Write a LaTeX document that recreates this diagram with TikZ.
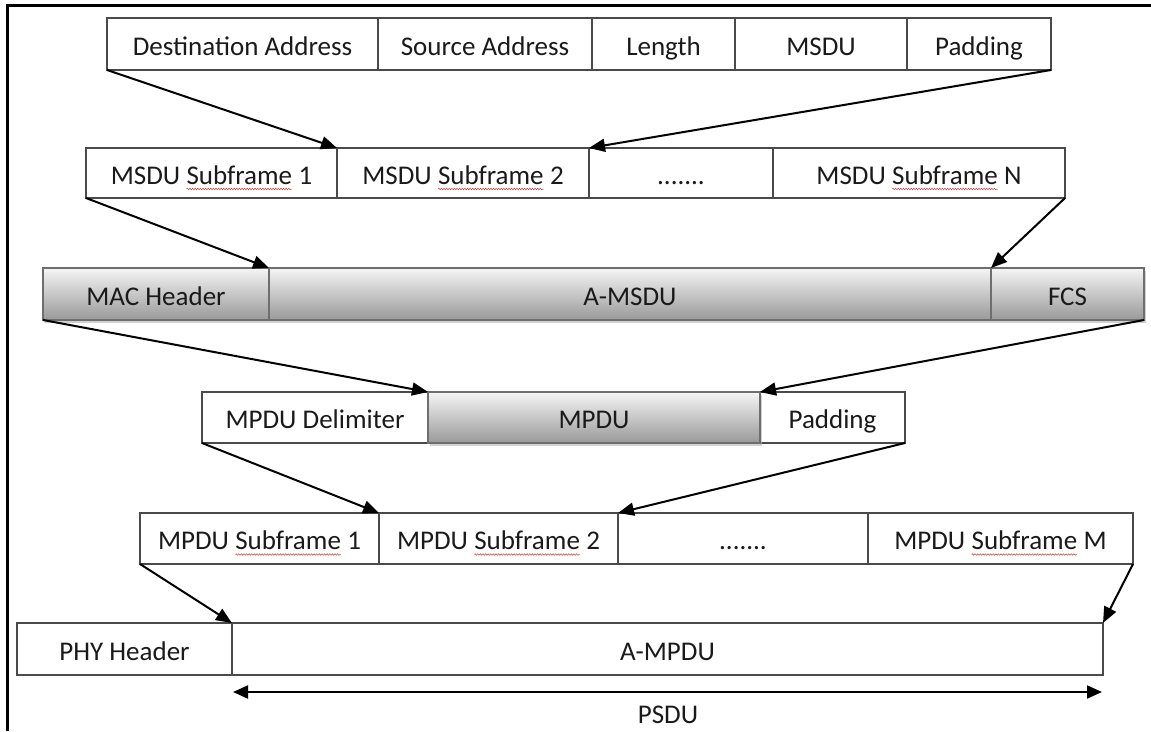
\documentclass[tikz,border=0pt]{standalone}
\usepackage{fontspec}
\setmainfont{Carlito}
\usetikzlibrary{arrows.meta,shadows,decorations.pathmorphing}
\definecolor{txt}{HTML}{1A1A1A}
\definecolor{edge}{HTML}{4A4A4A}
\definecolor{sedge}{HTML}{6E6E6E}
\definecolor{spellred}{HTML}{D04040}
\newcommand\spellw[1]{\begin{tikzpicture}[baseline=(sw.base)]\node[draw=none,fill=none,minimum width=0pt,minimum height=0pt,inner sep=0pt,outer sep=0pt,text height=,text depth=,anchor=base] (sw) {#1};\draw[spellred,line width=0.5pt,decorate,decoration={snake,amplitude=0.8pt,segment length=2.6pt}] ([yshift=-5pt]sw.base west) -- ([yshift=-5pt]sw.base east);\end{tikzpicture}}
\begin{document}
\begin{tikzpicture}[x=1pt,y=-1pt,
  box/.style={draw=edge,line width=1.6pt,fill=white,inner sep=0pt,outer sep=0pt,anchor=north west,
    text height=24pt,text depth=2pt,font=\fontsize{27}{31}\selectfont,text=txt},
  shbox/.style={box,draw=sedge,top color=black!4,bottom color=black!40,
    drop shadow={shadow xshift=2pt,shadow yshift=-3pt,fill=black!30,opacity=0.6}},
  conn/.style={-{Triangle[length=16pt,width=13pt]},line width=2pt,black},
  dbl/.style={{Triangle[length=15pt,width=13pt]}-{Triangle[length=15pt,width=13pt]},line width=2pt,black},
  lbl/.style={inner sep=0pt,font=\fontsize{27}{31}\selectfont,text=txt},
  frame/.style={line width=3pt,black}]
\useasboundingbox (0,0) rectangle (1151,731);
\draw[frame] (7,731) -- (7,5) -- (1151,5);
% Row 1
\node[box,minimum width=271pt,minimum height=52pt] (da) at (107,18) {Destination Address};
\node[box,minimum width=214pt,minimum height=52pt] (sa) at (378,18) {Source Address};
\node[box,minimum width=143pt,minimum height=52pt] (len) at (592,18) {Length};
\node[box,minimum width=172pt,minimum height=52pt] (msdu) at (735,18) {MSDU};
\node[box,minimum width=144pt,minimum height=52pt] (pada) at (907,18) {Padding};
% Row 2
\node[box,minimum width=251pt,minimum height=50pt] (s1) at (86,148) {MSDU \spellw{Subframe} 1};
\node[box,minimum width=252pt,minimum height=50pt] (s2) at (337,148) {MSDU \spellw{Subframe} 2};
\node[box,minimum width=184pt,minimum height=50pt] (sd) at (589,148) {.......};
\node[box,minimum width=292pt,minimum height=50pt] (sn) at (773,148) {MSDU \spellw{Subframe} N};
% Row 3
\node[shbox,minimum width=226pt,minimum height=52pt] (mac) at (43,268) {MAC Header};
\node[shbox,minimum width=722pt,minimum height=52pt] (amsdu) at (269,268) {A-MSDU};
\node[shbox,minimum width=153pt,minimum height=52pt] (fcs) at (991,268) {FCS};
% Row 4
\node[box,minimum width=226pt,minimum height=51pt] (delim) at (202,392) {MPDU Delimiter};
\node[box,minimum width=145pt,minimum height=51pt] (padb) at (760,392) {Padding};
\node[shbox,minimum width=332pt,minimum height=51pt] (mpdu) at (428,392) {MPDU};
% Row 5
\node[box,minimum width=239pt,minimum height=51pt] (m1) at (140,513) {MPDU \spellw{Subframe} 1};
\node[box,minimum width=239pt,minimum height=51pt] (m2) at (379,513) {MPDU \spellw{Subframe} 2};
\node[box,minimum width=250pt,minimum height=51pt] (md) at (618,513) {.......};
\node[box,minimum width=265pt,minimum height=51pt] (mm) at (868,513) {MPDU \spellw{Subframe} M};
% Row 6
\node[box,minimum width=215pt,minimum height=52pt] (phy) at (17,623) {PHY Header};
\node[box,minimum width=871pt,minimum height=52pt] (ampdu) at (232,623) {A-MPDU};
% Connectors
\draw[conn] (da.south west) -- (s1.north east);
\draw[conn] (pada.south east) -- (sd.north west);
\draw[conn] (s1.south west) -- (mac.north east);
\draw[conn] (sn.south east) -- (fcs.north west);
\draw[conn] (mac.south west) -- (mpdu.north west);
\draw[conn] (fcs.south east) -- (mpdu.north east);
\draw[conn] (delim.south west) -- (m1.north east);
\draw[conn] (padb.south east) -- (md.north west);
\draw[conn] (m1.south west) -- (ampdu.north west);
\draw[conn] (mm.south east) -- (ampdu.north east);
% PSDU
\coordinate (pl) at (233,692);
\coordinate (pr) at (1102,692);
\draw[dbl] (pl) -- (pr);
\node[lbl] (psdu) at (668,715) {PSDU};
\end{tikzpicture}
\end{document}
